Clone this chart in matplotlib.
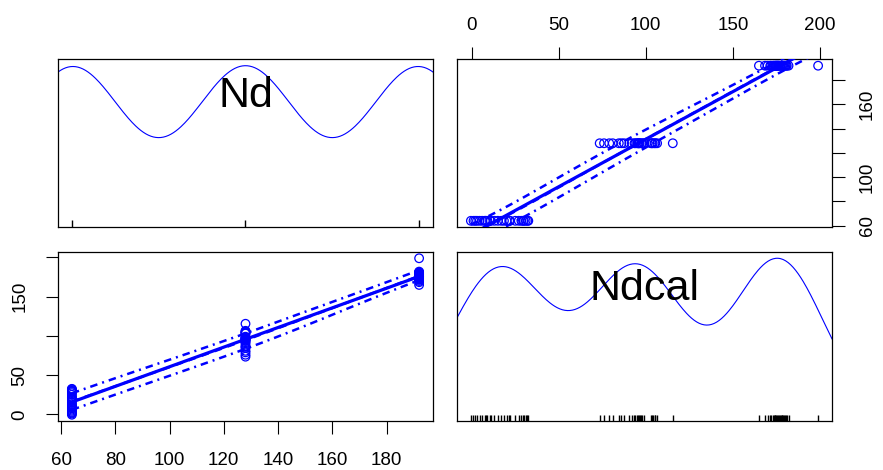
import numpy as np
import matplotlib

matplotlib.use("Agg")

import matplotlib.pyplot as plt

plt.rcParams["font.family"] = ["Liberation Sans", "DejaVu Sans"]

# variables shown on the diagonal
var_names = ["Nd", "Ndcal"]

# Nd has three levels, equal number of observations each
nd_levels = [64, 128, 192]
nd_counts = [26, 26, 26]

# Ndcal values read from the rug, grouped by Nd level
ndcal_low = [-0.5, 1, 2, 3, 4.5, 6, 7.5, 8, 9, 10.5, 11, 13, 15, 17,
             18.5, 20, 21.5, 22, 25, 27, 28.5, 29.5, 30, 31, 32, 32.5]
ndcal_mid = [73.5, 76, 79, 81, 84.5, 86, 87.5, 90.5, 92, 93.5, 94, 95, 95.5, 96, 96,
             96.5, 97.5, 98, 99, 103, 103.5, 104, 105, 105.5, 106.5, 115.5]
ndcal_high = [165, 168.5, 170, 171.5, 172, 173, 173.5, 174, 174.5, 175, 175, 175.5,
              176, 176, 176.5, 177, 177.5, 178, 178.5, 179, 179.5, 180, 180.5, 181,
              182, 199]

# axis ticks and labels (R drops labels that would overlap)
nd_ticks = [60, 80, 100, 120, 140, 160, 180]
nd_tick_labels = ["60", "80", "100", "120", "140", "160", "180"]
nd_right_ticks = [60, 80, 100, 120, 140, 160, 180]
nd_right_labels = ["60", "", "100", "", "", "160", ""]
ndcal_top_ticks = [0, 50, 100, 150, 200]
ndcal_top_labels = ["0", "50", "100", "150", "200"]
ndcal_left_ticks = [0, 50, 100, 150, 200]
ndcal_left_labels = ["0", "50", "", "150", ""]

BLUE = "#0000ff"
W, H = 883, 470
TICK_FS = 13.5


def rect(left, top, right, bottom):
    return [left / W, 1 - bottom / H, (right - left) / W, (bottom - top) / H]


def pad_range(v):
    lo, hi = np.min(v), np.max(v)
    r = hi - lo
    return lo - 0.04 * r, hi + 0.04 * r


def bw_nrd0(x):
    sd = np.std(x, ddof=1)
    q1, q3 = np.percentile(x, [25, 75])
    return 0.9 * min(sd, (q3 - q1) / 1.34) * len(x) ** -0.2


def kde(x, grid):
    h = bw_nrd0(x)
    z = (grid[:, None] - x[None, :]) / h
    return np.exp(-0.5 * z ** 2).sum(axis=1) / (len(x) * h * np.sqrt(2 * np.pi))


def local_fit(x, y, grid, h, degree=1):
    out = []
    for g in grid:
        w = np.exp(-0.5 * ((x - g) / h) ** 2)
        if degree == 0:
            out.append(np.sum(w * y) / np.sum(w))
            continue
        xm = np.sum(w * x) / np.sum(w)
        ym = np.sum(w * y) / np.sum(w)
        sxx = np.sum(w * (x - xm) ** 2)
        b = np.sum(w * (x - xm) * (y - ym)) / sxx if sxx > 1e-9 else 0.0
        out.append(ym + b * (g - xm))
    return np.array(out)


def diag_panel(ax, v, label, rug_len):
    xlim = pad_range(v)
    grid = np.linspace(xlim[0], xlim[1], 300)
    dens = kde(v, grid)
    ax.plot(grid, dens, color=BLUE, lw=0.8)
    m = dens.max()
    ax.set_xlim(xlim)
    ax.set_ylim(-0.04 * m, 1.04 * m)
    ax.vlines(np.unique(v), 0, rug_len, transform=ax.get_xaxis_transform(),
              color="black", lw=1.0)
    ax.text(0.5, 0.716, label, transform=ax.transAxes, ha="center",
            va="baseline", fontsize=31)
    ax.set_xticks([])
    ax.set_yticks([])


def pair_panel(ax, x, y):
    ax.scatter(x, y, s=38, facecolors="none", edgecolors=BLUE, linewidths=0.9,
               zorder=3)
    grid = np.linspace(x.min(), x.max(), 120)
    b, a = np.polyfit(x, y, 1)
    ax.plot(grid, a + b * grid, color=BLUE, lw=2.3, zorder=4)
    h = 0.22 * (x.max() - x.min())
    fit_x = local_fit(x, y, x, h)
    fit_g = local_fit(x, y, grid, h)
    res = y - fit_x
    pos = res > 0
    neg = res < 0
    up = fit_g + np.sqrt(local_fit(x[pos], res[pos] ** 2, grid, h, degree=0))
    lo = fit_g - np.sqrt(local_fit(x[neg], res[neg] ** 2, grid, h, degree=0))
    ax.plot(grid, fit_g, color=BLUE, lw=1.8, ls=(0, (3, 2.5)), zorder=4)
    ax.plot(grid, up, color=BLUE, lw=1.8, ls=(0, (3, 2, 0.8, 2)), zorder=4)
    ax.plot(grid, lo, color=BLUE, lw=1.8, ls=(0, (3, 2, 0.8, 2)), zorder=4)
    ax.set_xlim(pad_range(x))
    ax.set_ylim(pad_range(y))


def main() -> None:
    nd = np.repeat(nd_levels, nd_counts).astype(float)
    ndcal = np.array(ndcal_low + ndcal_mid + ndcal_high, dtype=float)

    fig = plt.figure(figsize=(W / 100, H / 100), dpi=100)
    ax_tl = fig.add_axes(rect(58, 59.5, 433, 227))
    ax_tr = fig.add_axes(rect(457, 59.5, 832, 227))
    ax_bl = fig.add_axes(rect(58, 252, 433, 421))
    ax_br = fig.add_axes(rect(457, 252, 832, 421))

    diag_panel(ax_tl, nd, var_names[0], 0.042)
    diag_panel(ax_br, ndcal, var_names[1], 0.036)

    pair_panel(ax_tr, ndcal, nd)
    pair_panel(ax_bl, nd, ndcal)

    tick_kw = dict(direction="out", length=9, width=0.8, labelsize=TICK_FS)

    ax_bl.set_xticks(nd_ticks, nd_tick_labels)
    ax_bl.set_yticks(ndcal_left_ticks, ndcal_left_labels, rotation=90, va="center")
    ax_bl.tick_params(axis="x", pad=13, **tick_kw)
    ax_bl.tick_params(axis="y", pad=12.5, **tick_kw)

    ax_tr.xaxis.tick_top()
    ax_tr.yaxis.tick_right()
    ax_tr.set_xticks(ndcal_top_ticks, ndcal_top_labels)
    ax_tr.set_yticks(nd_right_ticks, nd_right_labels, rotation=90, va="center")
    ax_tr.tick_params(axis="x", pad=9, **tick_kw)
    ax_tr.tick_params(axis="y", pad=10.5, **tick_kw)

    for ax in (ax_tl, ax_tr, ax_bl, ax_br):
        for sp in ax.spines.values():
            sp.set_linewidth(0.9)

    fig.savefig("out.png", dpi=100)
    plt.close(fig)


if __name__ == "__main__":
    main()
